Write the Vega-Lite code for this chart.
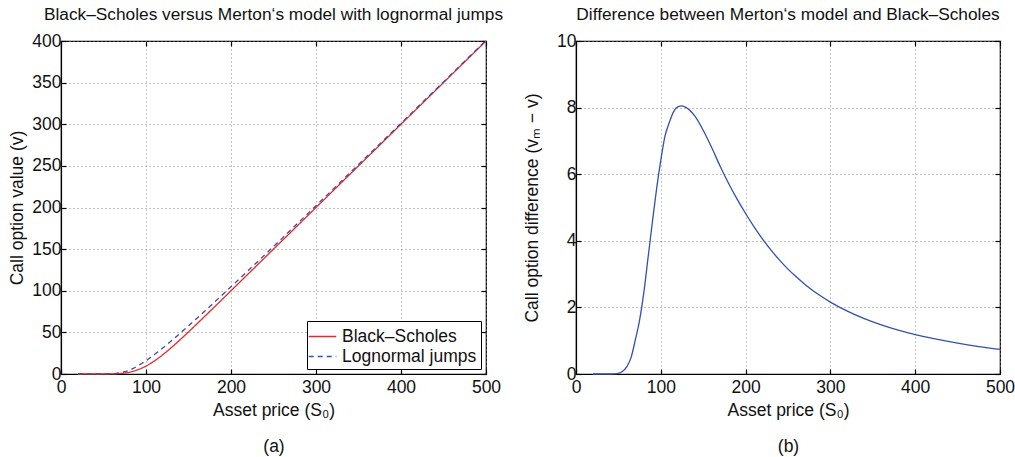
{
"$schema": "https://vega.github.io/schema/vega-lite/v6.json",
"background": "white",
"padding": {"left": 8, "top": 5, "right": 5, "bottom": 0},
"config": {
  "font": "Liberation Sans",
  "view": {"stroke": "black", "strokeWidth": 1.2},
  "axis": {
    "labelFont": "Liberation Sans", "labelFontSize": 17.5, "labelColor": "#111",
    "titleFont": "Liberation Sans", "titleFontSize": 17.5, "titleFontWeight": "normal", "titleColor": "#111",
    "domainColor": "black", "domainWidth": 1.2, "tickColor": "black", "tickWidth": 1.2,
    "gridColor": "#888", "gridDash": [1, 3], "gridWidth": 1,
    "tickSize": -5, "labelPadding": 5, "labelFlush": false, "labelOverlap": false
  },
  "axisX": {"labelPadding": 9},
  "title": {"font": "Liberation Sans", "fontSize": 17.3, "fontWeight": "normal", "color": "#111", "offset": 9, "anchor": "middle", "frame": "group"},
  "legend": {"strokeColor": "black", "fillColor": "white", "padding": 4,
    "labelFont": "Liberation Sans", "labelFontSize": 17.5, "labelColor": "#111", "symbolType": "M-1.3,0H1.3", "symbolSize": 450, "symbolStrokeWidth": 1.3, "rowPadding": -3, "labelOffset": 8},
  "concat": {"spacing": 18}
},
"resolve": {"legend": {"color": "independent", "strokeDash": "independent"}},
"datasets": {
  "left": [
    {"S": 20, "model": "Black–Scholes", "v": 0}, {"S": 30, "model": "Black–Scholes", "v": 0}, {"S": 40, "model": "Black–Scholes", "v": 0},
    {"S": 50, "model": "Black–Scholes", "v": 0.01}, {"S": 55, "model": "Black–Scholes", "v": 0.04}, {"S": 60, "model": "Black–Scholes", "v": 0.11},
    {"S": 65, "model": "Black–Scholes", "v": 0.28}, {"S": 70, "model": "Black–Scholes", "v": 0.61}, {"S": 75, "model": "Black–Scholes", "v": 1.16},
    {"S": 80, "model": "Black–Scholes", "v": 2.03}, {"S": 85, "model": "Black–Scholes", "v": 3.28}, {"S": 90, "model": "Black–Scholes", "v": 4.93},
    {"S": 95, "model": "Black–Scholes", "v": 7.03}, {"S": 100, "model": "Black–Scholes", "v": 9.56}, {"S": 105, "model": "Black–Scholes", "v": 12.49},
    {"S": 110, "model": "Black–Scholes", "v": 15.8}, {"S": 115, "model": "Black–Scholes", "v": 19.45}, {"S": 120, "model": "Black–Scholes", "v": 23.38},
    {"S": 125, "model": "Black–Scholes", "v": 27.54}, {"S": 130, "model": "Black–Scholes", "v": 31.89}, {"S": 140, "model": "Black–Scholes", "v": 41.03},
    {"S": 150, "model": "Black–Scholes", "v": 50.55}, {"S": 160, "model": "Black–Scholes", "v": 60.28}, {"S": 170, "model": "Black–Scholes", "v": 70.15},
    {"S": 180, "model": "Black–Scholes", "v": 80.07}, {"S": 190, "model": "Black–Scholes", "v": 90.04}, {"S": 200, "model": "Black–Scholes", "v": 100.02},
    {"S": 220, "model": "Black–Scholes", "v": 120}, {"S": 240, "model": "Black–Scholes", "v": 140}, {"S": 260, "model": "Black–Scholes", "v": 160},
    {"S": 280, "model": "Black–Scholes", "v": 180}, {"S": 300, "model": "Black–Scholes", "v": 200}, {"S": 325, "model": "Black–Scholes", "v": 225},
    {"S": 350, "model": "Black–Scholes", "v": 250}, {"S": 375, "model": "Black–Scholes", "v": 275}, {"S": 400, "model": "Black–Scholes", "v": 300},
    {"S": 425, "model": "Black–Scholes", "v": 325}, {"S": 450, "model": "Black–Scholes", "v": 350}, {"S": 475, "model": "Black–Scholes", "v": 375},
    {"S": 500, "model": "Black–Scholes", "v": 400},
    {"S": 20, "model": "Lognormal jumps", "v": 0}, {"S": 30, "model": "Lognormal jumps", "v": 0}, {"S": 40, "model": "Lognormal jumps", "v": 0},
    {"S": 50, "model": "Lognormal jumps", "v": 0.03}, {"S": 55, "model": "Lognormal jumps", "v": 0.12}, {"S": 60, "model": "Lognormal jumps", "v": 0.33},
    {"S": 65, "model": "Lognormal jumps", "v": 0.78}, {"S": 70, "model": "Lognormal jumps", "v": 1.64}, {"S": 75, "model": "Lognormal jumps", "v": 2.78},
    {"S": 80, "model": "Lognormal jumps", "v": 4.48}, {"S": 85, "model": "Lognormal jumps", "v": 6.78}, {"S": 90, "model": "Lognormal jumps", "v": 9.48},
    {"S": 95, "model": "Lognormal jumps", "v": 12.58}, {"S": 100, "model": "Lognormal jumps", "v": 15.98}, {"S": 105, "model": "Lognormal jumps", "v": 19.64},
    {"S": 110, "model": "Lognormal jumps", "v": 23.35}, {"S": 115, "model": "Lognormal jumps", "v": 27.32}, {"S": 120, "model": "Lognormal jumps", "v": 31.4},
    {"S": 125, "model": "Lognormal jumps", "v": 35.59}, {"S": 130, "model": "Lognormal jumps", "v": 39.89}, {"S": 140, "model": "Lognormal jumps", "v": 48.78},
    {"S": 150, "model": "Lognormal jumps", "v": 57.87}, {"S": 160, "model": "Lognormal jumps", "v": 67.08}, {"S": 170, "model": "Lognormal jumps", "v": 76.39},
    {"S": 180, "model": "Lognormal jumps", "v": 85.79}, {"S": 190, "model": "Lognormal jumps", "v": 95.29}, {"S": 200, "model": "Lognormal jumps", "v": 104.84},
    {"S": 220, "model": "Lognormal jumps", "v": 124.05}, {"S": 240, "model": "Lognormal jumps", "v": 143.42}, {"S": 260, "model": "Lognormal jumps", "v": 162.91},
    {"S": 280, "model": "Lognormal jumps", "v": 182.5}, {"S": 300, "model": "Lognormal jumps", "v": 202.16}, {"S": 325, "model": "Lognormal jumps", "v": 226.82},
    {"S": 350, "model": "Lognormal jumps", "v": 251.58}, {"S": 375, "model": "Lognormal jumps", "v": 276.38}, {"S": 400, "model": "Lognormal jumps", "v": 301.18},
    {"S": 425, "model": "Lognormal jumps", "v": 326.05}, {"S": 450, "model": "Lognormal jumps", "v": 350.93}, {"S": 475, "model": "Lognormal jumps", "v": 375.83},
    {"S": 500, "model": "Lognormal jumps", "v": 400.74}
  ],
  "diff": [
    {"S": 20, "d": 0}, {"S": 30, "d": 0}, {"S": 40, "d": 0}, {"S": 45, "d": 0.005}, {"S": 50, "d": 0.02}, {"S": 55, "d": 0.08},
    {"S": 60, "d": 0.22}, {"S": 65, "d": 0.5}, {"S": 70, "d": 1.03}, {"S": 75, "d": 1.62}, {"S": 80, "d": 2.45}, {"S": 85, "d": 3.5},
    {"S": 90, "d": 4.55}, {"S": 95, "d": 5.55}, {"S": 100, "d": 6.42}, {"S": 105, "d": 7.15}, {"S": 110, "d": 7.55}, {"S": 115, "d": 7.87},
    {"S": 120, "d": 8.02}, {"S": 125, "d": 8.05}, {"S": 130, "d": 8.0}, {"S": 140, "d": 7.75}, {"S": 150, "d": 7.32}, {"S": 160, "d": 6.8},
    {"S": 170, "d": 6.24}, {"S": 180, "d": 5.72}, {"S": 190, "d": 5.25}, {"S": 200, "d": 4.82}, {"S": 210, "d": 4.42}, {"S": 220, "d": 4.05},
    {"S": 230, "d": 3.72}, {"S": 240, "d": 3.42}, {"S": 250, "d": 3.15}, {"S": 260, "d": 2.91}, {"S": 270, "d": 2.69}, {"S": 280, "d": 2.495},
    {"S": 290, "d": 2.32}, {"S": 300, "d": 2.16}, {"S": 320, "d": 1.886}, {"S": 340, "d": 1.66}, {"S": 360, "d": 1.473}, {"S": 380, "d": 1.314},
    {"S": 400, "d": 1.18}, {"S": 425, "d": 1.046}, {"S": 450, "d": 0.926}, {"S": 475, "d": 0.825}, {"S": 500, "d": 0.74}
  ]
},
"hconcat": [
  {
    "width": 425, "height": 333,
    "title": "Black–Scholes versus Merton‘s model with lognormal jumps",
    "data": {"name": "left"},
    "layer": [
      {
        "mark": {"type": "line", "strokeWidth": 1.3, "interpolate": "monotone"},
        "encoding": {
          "x": {"field": "S", "type": "quantitative", "scale": {"domain": [0, 500], "nice": false},
                "axis": {"title": ["Asset price (S₀)", "(a)"], "titleLineHeight": 36, "titlePadding": 6, "values": [0, 100, 200, 300, 400, 500]}},
          "y": {"field": "v", "type": "quantitative", "scale": {"domain": [0, 400], "nice": false},
                "axis": {"title": "Call option value (v)", "titlePadding": 5, "values": [0, 50, 100, 150, 200, 250, 300, 350, 400]}},
          "color": {"field": "model", "type": "nominal", "scale": {"domain": ["Black–Scholes", "Lognormal jumps"], "range": ["#ee2424", "#3350b0"]},
                    "legend": {"title": null, "orient": "bottom-right", "offset": 5}},
          "strokeDash": {"field": "model", "type": "nominal", "scale": {"domain": ["Black–Scholes", "Lognormal jumps"], "range": [[1, 0], [5, 4]]},
                    "legend": {"title": null, "orient": "bottom-right", "offset": 5}}
        }
      },
      {
        "mark": {"type": "line", "strokeOpacity": 0},
        "encoding": {
          "x": {"field": "S", "type": "quantitative", "axis": {"orient": "top", "labels": false, "title": null, "grid": false, "domain": false, "values": [0, 100, 200, 300, 400, 500]}},
          "y": {"field": "v", "type": "quantitative", "axis": {"orient": "right", "labels": false, "title": null, "grid": false, "domain": false, "values": [0, 50, 100, 150, 200, 250, 300, 350, 400]}},
          "detail": {"field": "model"}
        }
      }
    ],
    "resolve": {"axis": {"x": "independent", "y": "independent"}}
  },
  {
    "width": 424, "height": 333,
    "title": "Difference between Merton‘s model and Black–Scholes",
    "data": {"name": "diff"},
    "layer": [
      {
        "mark": {"type": "line", "strokeWidth": 1.3, "color": "#3350b0", "interpolate": "monotone"},
        "encoding": {
          "x": {"field": "S", "type": "quantitative", "scale": {"domain": [0, 500], "nice": false},
                "axis": {"title": ["Asset price (S₀)", "(b)"], "titleLineHeight": 36, "titlePadding": 6, "values": [0, 100, 200, 300, 400, 500]}},
          "y": {"field": "d", "type": "quantitative", "scale": {"domain": [0, 10], "nice": false},
                "axis": {"title": "Call option difference (vₘ − v)", "titlePadding": 15, "values": [0, 2, 4, 6, 8, 10]}}
        }
      },
      {
        "mark": {"type": "line", "strokeOpacity": 0},
        "encoding": {
          "x": {"field": "S", "type": "quantitative", "axis": {"orient": "top", "labels": false, "title": null, "grid": false, "domain": false, "values": [0, 100, 200, 300, 400, 500]}},
          "y": {"field": "d", "type": "quantitative", "axis": {"orient": "right", "labels": false, "title": null, "grid": false, "domain": false, "values": [0, 2, 4, 6, 8, 10]}}
        }
      }
    ],
    "resolve": {"axis": {"x": "independent", "y": "independent"}}
  }
]
}
